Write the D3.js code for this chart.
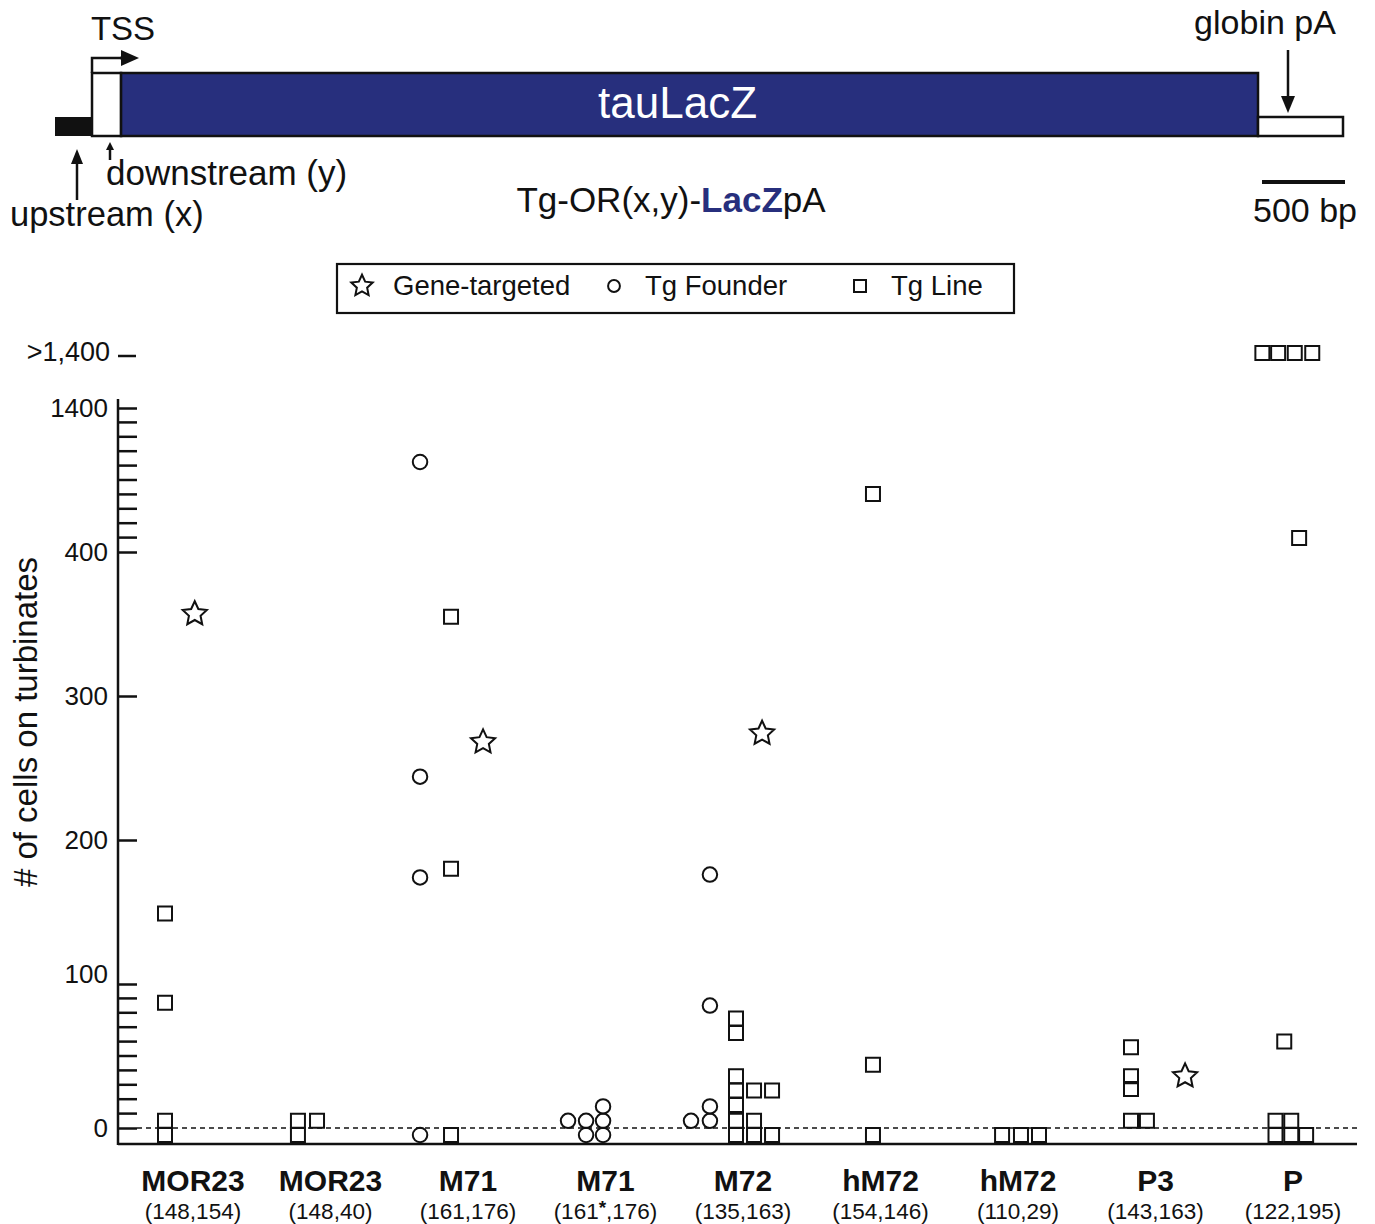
<!DOCTYPE html>
<html>
<head>
<meta charset="utf-8">
<script src="https://cdn.jsdelivr.net/npm/d3@7"></script>
<style>
  body { margin: 0; background: #fff; }
  svg { display: block; font-family: "Liberation Sans", Arial, Helvetica, sans-serif; }
</style>
</head>
<body>
<div id="chart"></div>
<script>
// x categories (transgene + upstream/downstream lengths)
const groupNames = ["MOR23", "MOR23", "M71", "M71", "M72", "hM72", "hM72", "P3", "P"];
const groupSizes = ["(148,154)", "(148,40)", "(161,176)", "(161*,176)", "(135,163)", "(154,146)", "(110,29)", "(143,163)", "(122,195)"];

// y axis ticks (lower part linear, upper part compressed x10)
const majorTicks = [0, 100, 200, 300, 400, 1400];
const minorTicks = [10, 20, 30, 40, 50, 60, 70, 80, 90, 500, 600, 700, 800, 900, 1000, 1100, 1200, 1300];
const OVER = Infinity; // ">1,400"

// points: [group index, column slot within group, # of cells]
const geneTargeted = [
  [0, 0.1, 357],
  [2, 0.86, 268],
  [4, 1.09, 274],
  [7, 1.69, 36]
];
const tgFounder = [
  [2, -2.74, 1025], [2, -2.74, 244], [2, -2.74, 174], [2, -2.74, 0],
  [3, -2.14, 5], [3, -1.11, 5], [3, -1.11, 0], [3, -0.14, 15], [3, -0.14, 5], [3, -0.14, 0],
  [4, -1.89, 176], [4, -1.89, 85], [4, -2.97, 5], [4, -1.89, 15], [4, -1.89, 5]
];
const tgLine = [
  [0, -1.6, 149], [0, -1.6, 87], [0, -1.6, 5], [0, -1.6, 0],
  [1, -1.86, 5], [1, -0.77, 5], [1, -1.86, 0],
  [2, -0.97, 355], [2, -0.97, 180], [2, -0.97, 0],
  [4, -0.4, 76], [4, -0.4, 66], [4, -0.4, 36], [4, -0.4, 26], [4, -0.4, 16], [4, -0.4, 5], [4, -0.4, 0],
  [4, 0.63, 26], [4, 0.63, 5], [4, 0.63, 0],
  [4, 1.66, 26], [4, 1.66, 0],
  [5, -0.43, 803], [5, -0.43, 44], [5, -0.43, 0],
  [6, -0.91, 0], [6, 0.17, 0], [6, 1.2, 0],
  [7, -1.4, 56], [7, -1.4, 36], [7, -1.4, 27], [7, -1.4, 5], [7, -0.49, 5],
  [8, -1.75, OVER], [8, -0.85, OVER], [8, 0.1, OVER], [8, 1.1, OVER],
  [8, 0.35, 497], [8, -0.5, 60],
  [8, -1.0, 5], [8, -0.1, 5], [8, -1.0, 0], [8, -0.1, 0], [8, 0.75, 0]
];

// construct map segments, in bp
const construct = [
  { name: "upstream", bp: 223 },
  { name: "downstream", bp: 175 },
  { name: "tauLacZ", bp: 6850 },
  { name: "globin pA", bp: 512 }
];
const scaleBarBp = 500;

const width = 1375, height = 1224;
const svg = d3.select("#chart").append("svg")
  .attr("width", width)
  .attr("height", height);

const ink = "#111";
const navy = "#272f7d";

// ---------- construct diagram ----------
const total = d3.sum(construct, d => d.bp);
const bx = d3.scaleLinear().domain([0, total]).range([55, 1343]);
let acc = 0;
construct.forEach(d => { d.start = acc; acc += d.bp; d.end = acc; });
const [up, down, lacz, pa] = construct;
const tallTop = 73, lowTop = 117, boxBottom = 136;

const diag = svg.append("g");
diag.append("rect")
  .attr("x", bx(up.start)).attr("y", lowTop)
  .attr("width", bx(up.end) - bx(up.start)).attr("height", boxBottom - lowTop)
  .attr("fill", ink);
diag.append("rect")
  .attr("x", bx(down.start)).attr("y", tallTop)
  .attr("width", bx(down.end) - bx(down.start)).attr("height", boxBottom - tallTop)
  .attr("fill", "#fff").attr("stroke", ink).attr("stroke-width", 2.5);
diag.append("rect")
  .attr("x", bx(lacz.start)).attr("y", tallTop)
  .attr("width", bx(lacz.end) - bx(lacz.start)).attr("height", boxBottom - tallTop)
  .attr("fill", navy).attr("stroke", ink).attr("stroke-width", 2.5);
diag.append("rect")
  .attr("x", bx(pa.start)).attr("y", lowTop)
  .attr("width", bx(pa.end) - bx(pa.start)).attr("height", boxBottom - lowTop)
  .attr("fill", "#fff").attr("stroke", ink).attr("stroke-width", 2.5);

diag.append("text")
  .attr("x", (bx(lacz.start) + bx(lacz.end)) / 2 - 12).attr("y", 118)
  .attr("text-anchor", "middle").attr("font-size", 44).attr("fill", "#fff")
  .text("tauLacZ");

// arrow helper: straight line with a filled head
function arrow(x1, y1, x2, y2, head, half) {
  const ang = Math.atan2(y2 - y1, x2 - x1);
  const bxp = x2 - head * Math.cos(ang), byp = y2 - head * Math.sin(ang);
  const nx = -Math.sin(ang) * half, ny = Math.cos(ang) * half;
  diag.append("line")
    .attr("x1", x1).attr("y1", y1).attr("x2", bxp).attr("y2", byp)
    .attr("stroke", ink).attr("stroke-width", 2.5);
  diag.append("path")
    .attr("d", `M${x2},${y2}L${bxp + nx},${byp + ny}L${bxp - nx},${byp - ny}Z`)
    .attr("fill", ink);
}

// TSS bent arrow
const tssX = bx(down.start);
diag.append("path")
  .attr("d", `M${tssX},${tallTop}V58H122`)
  .attr("fill", "none").attr("stroke", ink).attr("stroke-width", 2.5);
arrow(120, 58, 139, 58, 18, 8);
diag.append("text").attr("x", 123).attr("y", 40)
  .attr("text-anchor", "middle").attr("font-size", 33).attr("fill", ink).text("TSS");

// upstream / downstream arrows
arrow(77, 200, 77, 149, 15, 6);
arrow(110, 160, 110, 142, 8, 4);
diag.append("text").attr("x", 10).attr("y", 226)
  .attr("font-size", 34.5).attr("fill", ink).text("upstream (x)");
diag.append("text").attr("x", 106).attr("y", 185)
  .attr("font-size", 35).attr("fill", ink).text("downstream (y)");

// globin pA
arrow(1288, 50, 1288, 113, 17, 7);
diag.append("text").attr("x", 1265).attr("y", 34)
  .attr("text-anchor", "middle").attr("font-size", 34).attr("fill", ink).text("globin pA");

// construct name
const cname = diag.append("text").attr("x", 671).attr("y", 212)
  .attr("text-anchor", "middle").attr("font-size", 35).attr("fill", ink);
cname.append("tspan").text("Tg-OR(x,y)-");
cname.append("tspan").attr("font-weight", "bold").attr("fill", navy).text("LacZ");
cname.append("tspan").text("pA");

// scale bar
const sbx = d3.scaleLinear().domain([0, total]).range([0, bx(total) - bx(0)]);
diag.append("line")
  .attr("x1", 1345 - sbx(scaleBarBp)).attr("x2", 1345)
  .attr("y1", 182).attr("y2", 182)
  .attr("stroke", ink).attr("stroke-width", 4);
diag.append("text").attr("x", 1305).attr("y", 222)
  .attr("text-anchor", "middle").attr("font-size", 34).attr("fill", ink).text("500 bp");

// ---------- legend ----------
const starType = {
  draw(context, size) {
    const R = Math.sqrt(size) * 0.62, r = R * 0.48;
    for (let i = 0; i < 10; i++) {
      const a = -Math.PI / 2 + i * Math.PI / 5;
      const rr = i % 2 ? r : R;
      const px = rr * Math.cos(a), py = rr * Math.sin(a);
      if (i === 0) context.moveTo(px, py); else context.lineTo(px, py);
    }
    context.closePath();
  }
};
const markerTypes = { star: starType, circle: d3.symbolCircle, square: d3.symbolSquare };
const markerSizes = { star: 420, circle: 165, square: 196 };

const legend = svg.append("g");
legend.append("rect")
  .attr("x", 337).attr("y", 264).attr("width", 677).attr("height", 49)
  .attr("fill", "none").attr("stroke", ink).attr("stroke-width", 2.2);
const legendItems = [
  { type: "star", label: "Gene-targeted", x: 362, size: 330 },
  { type: "circle", label: "Tg Founder", x: 614, size: 110 },
  { type: "square", label: "Tg Line", x: 860, size: 144 }
];
legendItems.forEach(d => {
  legend.append("path")
    .attr("transform", `translate(${d.x},286)`)
    .attr("d", d3.symbol(markerTypes[d.type], d.size)())
    .attr("fill", "none").attr("stroke", ink).attr("stroke-width", 2);
  legend.append("text").attr("x", d.x + 31).attr("y", 295)
    .attr("font-size", 27.5).attr("fill", ink).text(d.label);
});

// ---------- plot ----------
const y = d3.scaleLinear().domain([0, 400, 1400]).range([1128, 552, 408]);
const x = d3.scalePoint().domain(d3.range(groupNames.length)).range([193, 1293]);
const slot = 17.5;
const axisX = 118, axisBottom = y(0) + 16, plotRight = 1357;
const overY = y(1400) - 55;

const yPos = v => v === OVER ? overY : (v === 0 ? y(0) + 7 : y(v));

// y axis
const yAxis = d3.axisLeft(y)
  .tickValues(majorTicks)
  .tickSizeInner(-19).tickSizeOuter(0).tickPadding(10)
  .tickFormat(d3.format("d"));
const gy = svg.append("g").attr("transform", `translate(${axisX},0)`).call(yAxis);
gy.select(".domain").remove();
gy.selectAll(".tick line").attr("stroke", ink).attr("stroke-width", 2.5);
gy.selectAll(".tick text").attr("font-size", 26).attr("fill", ink)
  .attr("font-family", "Liberation Sans, Arial, sans-serif")
  .attr("dy", d => d === 100 ? "-0.05em" : "0.32em");

svg.append("g").selectAll("line").data(minorTicks).join("line")
  .attr("x1", axisX).attr("x2", axisX + 19)
  .attr("y1", d => y(d)).attr("y2", d => y(d))
  .attr("stroke", ink).attr("stroke-width", 2.5);

svg.append("line")
  .attr("x1", axisX).attr("x2", axisX)
  .attr("y1", y(1400) - 9).attr("y2", axisBottom + 1)
  .attr("stroke", ink).attr("stroke-width", 2.5);

// ">1,400" tick
svg.append("line")
  .attr("x1", axisX).attr("x2", axisX + 18)
  .attr("y1", overY + 3).attr("y2", overY + 3)
  .attr("stroke", ink).attr("stroke-width", 2.5);
svg.append("text").attr("x", axisX - 8).attr("y", overY + 8)
  .attr("text-anchor", "end").attr("font-size", 27).attr("fill", ink).text(">1,400");

// x axis line
svg.append("line")
  .attr("x1", axisX).attr("x2", plotRight)
  .attr("y1", axisBottom).attr("y2", axisBottom)
  .attr("stroke", ink).attr("stroke-width", 2.5);

// zero reference line
svg.append("line")
  .attr("x1", axisX + 19).attr("x2", plotRight)
  .attr("y1", y(0)).attr("y2", y(0))
  .attr("stroke", ink).attr("stroke-width", 1.6)
  .attr("stroke-dasharray", "5,4");

// y title
svg.append("text")
  .attr("transform", `translate(37,722) rotate(-90)`)
  .attr("text-anchor", "middle").attr("font-size", 33).attr("fill", ink)
  .text("# of cells on turbinates");

// category labels
const xl = svg.append("g");
groupNames.forEach((name, i) => {
  xl.append("text").attr("x", x(i)).attr("y", 1191)
    .attr("text-anchor", "middle").attr("font-size", 30).attr("font-weight", "bold")
    .attr("fill", ink).text(name);
  const t = xl.append("text").attr("x", x(i)).attr("y", 1219)
    .attr("text-anchor", "middle").attr("font-size", 22.5).attr("fill", ink);
  const parts = groupSizes[i].split("*");
  t.append("tspan").text(parts[0]);
  if (parts.length > 1) {
    t.append("tspan").attr("font-size", 19).attr("font-weight", "bold").attr("dy", -5).text("*");
    t.append("tspan").attr("dy", 5).text(parts[1]);
  }
});

// points
function drawPoints(data, type) {
  svg.append("g").selectAll("path").data(data).join("path")
    .attr("transform", d => `translate(${x(d[0]) + d[1] * slot},${yPos(d[2])})`)
    .attr("d", d3.symbol(markerTypes[type], markerSizes[type])())
    .attr("fill", "#fff").attr("fill-opacity", 0)
    .attr("stroke", ink).attr("stroke-width", 2);
}
drawPoints(tgLine, "square");
drawPoints(tgFounder, "circle");
drawPoints(geneTargeted, "star");
</script>
</body>
</html>
